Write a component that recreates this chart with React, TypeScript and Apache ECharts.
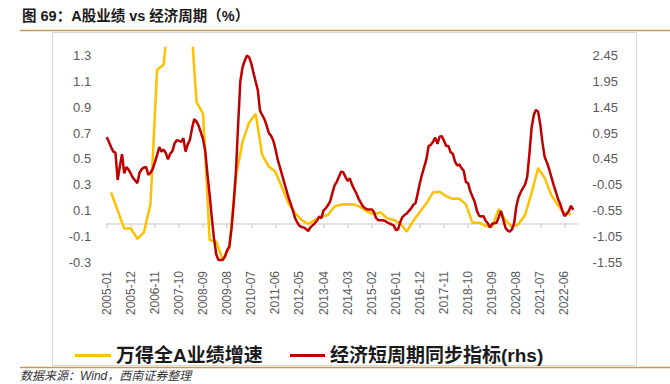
import React, { useEffect, useRef } from "react";
import * as echarts from "echarts";

// Monthly categories 2005-01 .. 2022-12
const startYear = 2005;
const endYear = 2022;
const months: string[] = [];
for (let y = startYear; y <= endYear; y++) {
  for (let m = 1; m <= 12; m++) months.push(`${y}-${m < 10 ? "0" + m : m}`);
}

// 经济短周期同步指标 (rhs), monthly from 2005-01
const cycleValues: number[] = [
  0.87, 0.78, 0.68, 0.59, 0.57, 0.04, 0.30, 0.54, 0.17, 0.29, 0.24, 0.16,
  0.08, 0.03, -0.02, 0.18, 0.25, 0.28, 0.29, 0.14, 0.18, 0.25, 0.38, 0.52,
  0.68, 0.59, 0.63, 0.56, 0.44, 0.55, 0.60, 0.75, 0.81, 0.80, 0.78, 0.85,
  0.59, 0.73, 0.82, 1.05, 1.22, 1.17, 1.09, 0.96, 0.83, 0.60, 0.15, -0.25,
  -0.70, -1.10, -1.40, -1.51, -1.51, -1.51, -1.44, -1.32, -1.25, -0.90, -0.40, 0.20,
  1.10, 1.95, 2.22, 2.35, 2.45, 2.42, 2.30, 2.12, 1.95, 1.78, 1.38, 1.30,
  1.22, 1.10, 0.95, 0.90, 0.81, 0.65, 0.45, 0.30, 0.15, 0.00, -0.15, -0.30,
  -0.42, -0.55, -0.70, -0.78, -0.85, -0.87, -0.88, -0.91, -0.95, -0.88, -0.84, -0.80,
  -0.75, -0.67, -0.70, -0.55, -0.51, -0.45, -0.38, -0.22, -0.07, 0.00, 0.10, 0.20,
  0.19, 0.10, 0.02, 0.07, -0.05, -0.14, -0.22, -0.32, -0.40, -0.47, -0.51, -0.53,
  -0.53, -0.53, -0.58, -0.70, -0.74, -0.74, -0.74, -0.75, -0.78, -0.80, -0.82, -0.84,
  -0.93, -0.92, -0.78, -0.68, -0.64, -0.61, -0.56, -0.51, -0.44, -0.41, -0.22, -0.02,
  0.15, 0.30, 0.45, 0.70, 0.72, 0.78, 0.86, 0.74, 0.88, 0.89, 0.80, 0.70,
  0.70, 0.58, 0.55, 0.40, 0.32, 0.34, 0.27, 0.22, 0.00, -0.02, -0.18, -0.28,
  -0.38, -0.55, -0.65, -0.67, -0.66, -0.75, -0.80, -0.88, -0.81, -0.80, -0.79, -0.68,
  -0.56, -0.72, -0.88, -0.94, -0.96, -0.92, -0.80, -0.48, -0.30, -0.20, -0.12, -0.05,
  0.10, 0.55, 1.05, 1.30, 1.40, 1.36, 1.10, 0.75, 0.48, 0.38, 0.25, 0.10,
  -0.05, -0.18, -0.32, -0.42, -0.55, -0.66, -0.62, -0.56, -0.46, -0.54,
];

// 万得全A业绩增速, quarterly from 2005-03 (every 3rd month)
const earningsFirstMonthIndex = 2;
const earningsQuarterly: number[] = [
  0.24, 0.10, -0.04, -0.04,
  -0.12, -0.07, 0.15, 1.19,
  1.23, 1.75, 1.95, 1.90,
  1.70, 0.94, 0.85, -0.13,
  -0.14, -0.285, -0.19, 0.36,
  0.63, 0.78, 0.85, 0.53,
  0.44, 0.40, 0.28, 0.155,
  0.08, 0.026, -0.005, 0.026,
  0.05, 0.064, 0.13, 0.145,
  0.148, 0.145, 0.125, 0.09,
  0.07, 0.085, 0.04, 0.026,
  0.0, -0.065, 0.02, 0.09,
  0.155, 0.24, 0.245, 0.21,
  0.19, 0.19, 0.147, 0.005,
  0.005, -0.02, -0.026, 0.11,
  0.026, -0.026, -0.008, 0.064,
  0.237, 0.43, 0.35, 0.22,
  0.14, 0.078, 0.07,
];

const leftTicks = { min: -0.3, max: 1.36, interval: 0.2 };
const rightTicks = { min: -1.55, max: 2.6, interval: 0.5 };

const seriesNames = ["万得全A业绩增速", "经济短周期同步指标(rhs)"];
const titleText = "图 69：A股业绩 vs 经济周期（%）";
const sourceText = "数据来源：Wind，西南证券整理";

const FONT = "'Liberation Sans', Arial, 'Noto Sans CJK SC', sans-serif";

export default function App() {
  const ref = useRef<HTMLDivElement>(null);
  useEffect(() => {
    if (!ref.current) return;
    const chart = echarts.init(ref.current, undefined, { renderer: "svg" });

    const earningsData = months.map((_, i) => {
      const k = (i - earningsFirstMonthIndex) / 3;
      return Number.isInteger(k) && k >= 0 && k < earningsQuarterly.length
        ? earningsQuarterly[k]
        : null;
    });

    const legendText = {
      fontSize: 19,
      fontWeight: "bold",
      color: "#1a1a1a",
      fontFamily: FONT,
    };

    const option: any = {
      animation: false,
      backgroundColor: "#ffffff",
      grid: { left: 106.7, right: 92.4, top: 47.9, bottom: 122, containLabel: false },
      graphic: [
        {
          type: "text",
          left: 22,
          top: 9,
          style: {
            text: titleText,
            fontSize: 14.5,
            fontWeight: "bold",
            fill: "#1a1a1a",
            fontFamily: FONT,
          },
        },
        {
          type: "line",
          shape: { x1: 20, y1: 30.5, x2: 670, y2: 30.5 },
          style: { stroke: "#c9974f", lineWidth: 1.5 },
        },
        {
          type: "rect",
          shape: { x: 52.5, y: 32.5, width: 584, height: 333 },
          style: { fill: "none", stroke: "#d9d9d9", lineWidth: 1 },
        },
        {
          type: "line",
          shape: { x1: 20, y1: 367.5, x2: 670, y2: 367.5 },
          style: { stroke: "#c9974f", lineWidth: 1.5 },
        },
        {
          type: "text",
          left: 20,
          top: 370,
          style: {
            text: sourceText,
            fontSize: 12,
            fontStyle: "italic",
            fill: "#333333",
            fontFamily: FONT,
          },
        },
      ],
      legend: [
        {
          left: 70,
          top: 341,
          icon: "rect",
          itemWidth: 36,
          itemHeight: 3,
          itemGap: 6,
          data: [seriesNames[0]],
          textStyle: legendText,
        },
        {
          left: 285,
          top: 341,
          icon: "rect",
          itemWidth: 35,
          itemHeight: 3,
          itemGap: 6,
          data: [seriesNames[1]],
          textStyle: legendText,
        },
      ],
      xAxis: [
        {
          type: "category",
          data: months,
          boundaryGap: false,
          position: "bottom",
          axisLine: { show: false, onZero: false },
          axisTick: { show: false },
          splitLine: { show: false },
          axisLabel: {
            interval: 10,
            rotate: 90,
            fontSize: 12,
            color: "#595959",
            margin: 9,
            fontFamily: FONT,
          },
        },
        {
          type: "category",
          data: months,
          boundaryGap: false,
          position: "top",
          axisLine: {
            show: true,
            onZero: true,
            onZeroAxisIndex: 0,
            lineStyle: { color: "#d9d9d9", width: 1.5 },
          },
          axisTick: {
            show: true,
            inside: true,
            interval: 10,
            length: 5,
            lineStyle: { color: "#d9d9d9", width: 1.5 },
          },
          axisLabel: { show: false },
          splitLine: { show: false },
        },
      ],
      yAxis: [
        {
          type: "value",
          min: leftTicks.min,
          max: leftTicks.max,
          interval: leftTicks.interval,
          axisLine: { show: false },
          axisTick: { show: false },
          splitLine: { show: false },
          axisLabel: {
            fontSize: 13,
            color: "#595959",
            margin: 15.5,
            fontFamily: FONT,
            formatter: (v: number) =>
              Math.abs(v - leftTicks.max) < 1e-6 ? "" : v.toFixed(1),
          },
        },
        {
          type: "value",
          position: "right",
          min: rightTicks.min,
          max: rightTicks.max,
          interval: rightTicks.interval,
          axisLine: { show: false },
          axisTick: { show: false },
          splitLine: { show: false },
          axisLabel: {
            fontSize: 13,
            color: "#595959",
            margin: 15,
            fontFamily: FONT,
            formatter: (v: number) =>
              Math.abs(v - rightTicks.max) < 1e-6 ? "" : v.toFixed(2),
          },
        },
      ],
      series: [
        {
          name: seriesNames[0],
          type: "line",
          xAxisIndex: 0,
          yAxisIndex: 0,
          data: earningsData,
          connectNulls: true,
          showSymbol: false,
          symbol: "none",
          lineStyle: { color: "#FFC000", width: 2.5 },
          itemStyle: { color: "#FFC000" },
        },
        {
          name: seriesNames[1],
          type: "line",
          xAxisIndex: 0,
          yAxisIndex: 1,
          data: cycleValues,
          showSymbol: false,
          symbol: "none",
          lineStyle: { color: "#C00000", width: 2.5 },
          itemStyle: { color: "#C00000" },
        },
      ],
    };
    chart.setOption(option);
    return () => chart.dispose();
  }, []);

  return (
    <div
      ref={ref}
      style={{ position: "absolute", left: 0, top: 0, width: 670, height: 384 }}
    />
  );
}
